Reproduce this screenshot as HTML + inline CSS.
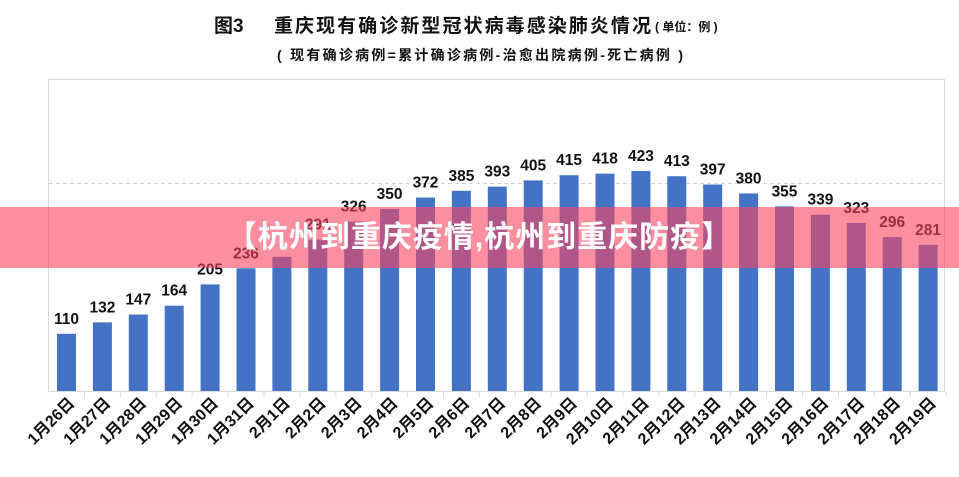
<!DOCTYPE html>
<html><head><meta charset="utf-8"><style>
body{margin:0;background:#fff;width:959px;height:477px;overflow:hidden;position:relative;font-family:"Liberation Sans","Noto Sans CJK SC",sans-serif}
svg{position:absolute;left:0;top:0}
.banner{position:absolute;left:0;top:207px;width:959px;height:61px;background:rgba(248,68,97,0.6);color:#fff;font-weight:bold;font-size:30px;line-height:61px;text-align:center;font-family:"Liberation Sans","Noto Sans CJK SC",sans-serif;letter-spacing:1px;padding-right:0px;box-sizing:border-box}
</style></head><body>
<svg width="959" height="477" xmlns="http://www.w3.org/2000/svg" font-family="Liberation Sans, Noto Sans CJK SC, sans-serif">
<text x="214" y="32" font-size="19" font-weight="bold" fill="#111">图3</text>
<text x="274" y="32" font-size="19" font-weight="bold" fill="#111" textLength="377">重庆现有确诊新型冠状病毒感染肺炎情况</text>
<text x="655" y="31" font-size="12" font-weight="bold" fill="#111">( 单位：例 )</text>
<text x="277" y="60" font-size="14" font-weight="bold" fill="#111" textLength="406">( 现有确诊病例=累计确诊病例-治愈出院病例-死亡病例 )</text>
<rect x="48.5" y="79.5" width="896" height="312" fill="none" stroke="#d9d9d9"/>
<line x1="49" y1="183.5" x2="944" y2="183.5" stroke="#d0d0d0" stroke-dasharray="4,3"/>
<g id="bars"></g>
</svg>
<div class="banner">【杭州到重庆疫情,杭州到重庆防疫】</div>
<script>
var d=["1月26日","1月27日","1月28日","1月29日","1月30日","1月31日","2月1日","2月2日","2月3日","2月4日","2月5日","2月6日","2月7日","2月8日","2月9日","2月10日","2月11日","2月12日","2月13日","2月14日","2月15日","2月16日","2月17日","2月18日","2月19日"];
var v=[110,132,147,164,205,236,258,291,326,350,372,385,393,405,415,418,423,413,397,380,355,339,323,296,281];
var g=document.getElementById('bars'),s='';
for(var i=0;i<25;i++){var cx=66.5+35.9*i,h=v[i]*0.52,y=391-h;
s+='<rect x="'+(cx-9.5)+'" y="'+y+'" width="19" height="'+h+'" fill="#4472c4"/>';
if(i!=6)s+='<text x="'+cx+'" y="'+(y-10)+'" font-size="15.5" font-weight="bold" text-anchor="middle" fill="#111">'+v[i]+'</text>';
s+='<line x1="'+(cx+18)+'" y1="392" x2="'+(cx+18)+'" y2="397" stroke="#d9d9d9"/>';
s+='<text transform="translate('+(cx+9)+',404) rotate(-45)" font-size="16" font-weight="bold" text-anchor="end" fill="#111">'+d[i]+'</text>';}
g.innerHTML=s;
</script>
</body></html>
